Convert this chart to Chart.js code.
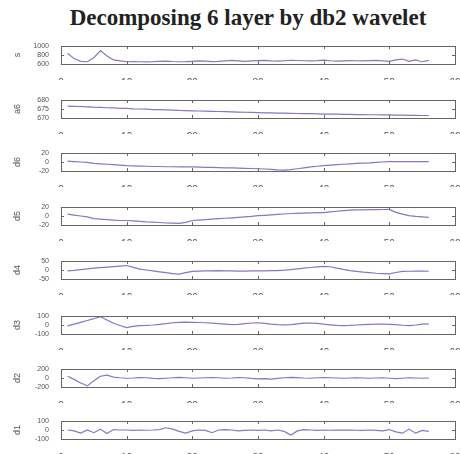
<!DOCTYPE html>
<html>
<head>
<meta charset="utf-8">
<script src="https://cdn.jsdelivr.net/npm/chart.js@4/dist/chart.umd.min.js"></script>
<style>
  body { margin: 0; background: #fff; width: 460px; height: 454px; overflow: hidden; position: relative; }
  #title { position: absolute; top: 5px; left: 0; width: 496px; text-align: center;
           font: bold 23px "Liberation Serif", serif; color: #222; }
  .plot { position: absolute; left: 0; width: 460px; height: 40px; }
</style>
</head>
<body>
<div id="title">Decomposing 6 layer by db2 wavelet</div>

<script>
// sample index (x axis)
const samples = [1,2,3,4,5,6,7,8,9,10,11,12,13,14,15,16,17,18,19,20,21,22,23,24,25,26,27,28,
  29,30,31,32,33,34,35,36,37,38,39,40,41,42,43,44,45,46,47,48,49,50,51,52,53,54,55,56];

const xTicks = [0, 10, 20, 30, 40, 50, 60];

// signal and decomposition levels
const sVals = [840,720,660,650,740,900,780,690,670,650,655,650,648,652,660,665,655,650,652,660,
  670,665,655,660,670,680,670,660,668,675,680,670,665,672,680,678,672,670,675,685,
  672,665,670,676,672,670,675,680,668,660,690,710,660,690,650,680];
const a6Vals = [676.6,676.5,676.4,676.2,676.0,675.9,675.7,675.6,675.4,675.3,675.1,675.0,674.9,674.7,
  674.6,674.5,674.4,674.2,674.1,674.0,673.9,673.8,673.7,673.6,673.5,673.4,673.3,673.2,
  673.1,673.0,672.9,672.8,672.7,672.7,672.6,672.5,672.4,672.4,672.3,672.2,672.2,672.1,
  672.0,672.0,671.9,671.9,671.8,671.8,671.7,671.7,671.6,671.6,671.5,671.5,671.4,671.4];
const d6Vals = [2,1,0,-1,-3,-4,-5,-6,-7,-8,-8.5,-9,-9.5,-10,-10,-10.5,-10.5,-11,-11,-11,
  -11.5,-12,-12,-12.5,-13,-13,-13.5,-14,-14.5,-15,-15.5,-16.5,-17.5,-18,-17,-15,-13,-11,-9.5,-8,
  -7,-6,-5,-4,-3,-2.5,-2,-1,0,1,1,1,1,1,1,1];
const d5Vals = [4,2,0,-2,-6,-7,-8,-9,-10,-10,-11,-12,-13,-13.5,-14.5,-15.5,-16,-16.5,-14,-10,
  -9,-8,-7,-6,-5,-4,-3,-2,-1,0.7,1.5,2.5,3.5,4.5,5.5,6,6.5,7,7.5,7.6,
  9,10.5,12,13,13.5,13.8,14,14.2,14.4,14.5,8,4,1,-1,-2,-3];
const d4Vals = [-5,-2,2,6,10,13,16,19,22,25,15,5,0,-5,-10,-15,-20,-23,-15,-8,
  -6,-5,-5,-4,-5,-5,-6,-6,-5,-5,-5,-4,-3,-1,2,6,10,14,17,20,
  18,10,3,-3,-8,-12,-15,-18,-20,-22,-14,-8,-7,-6,-6,-7];
const d3Vals = [-10,10,30,50,70,92,55,20,-5,-28,-15,-8,-5,0,8,15,25,30,32,30,
  28,25,20,15,10,5,8,15,22,25,18,10,5,2,5,12,20,22,18,10,
  2,-5,-8,-5,0,5,8,10,10,8,5,-3,-8,0,10,12];
const d2Vals = [40,-30,-110,-176,-60,40,64,20,5,-5,0,10,5,-10,-15,-5,5,15,5,-5,
  0,5,10,5,-5,0,10,5,-10,-20,-15,-25,-10,5,15,10,0,-5,5,10,
  5,0,-5,0,5,0,-5,0,5,-5,-15,-5,5,0,-5,0];
const d1Vals = [0,-10,-35,0,-30,10,-40,5,0,0,-5,0,-3,0,5,25,10,-15,-35,-10,
  0,-5,-30,0,5,0,-10,-5,0,-5,0,-10,0,-15,-55,-10,5,0,-5,0,
  -3,0,-2,0,-3,-5,0,-5,-10,5,-20,-35,10,-35,-5,-15];

const names = ["s", "a6", "d6", "d5", "d4", "d3", "d2", "d1"];
const series = [sVals, a6Vals, d6Vals, d5Vals, d4Vals, d3Vals, d2Vals, d1Vals];
const yMins = [600, 670, -20, -20, -50, -100, -200, -100];
const yMaxs = [1000, 680, 20, 20, 50, 100, 200, 100];
const boxTops = [46, 100, 153, 207, 261, 316, 369, 421];

// box round the plot area plus short inward ticks, matlab style
const boxPlugin = {
  id: "boxed",
  afterDraw(c) {
    const a = c.chartArea;
    const ctx = c.ctx;
    ctx.save();
    ctx.strokeStyle = "#666";
    ctx.lineWidth = 1;
    ctx.strokeRect(a.left + 0.5, a.top + 0.5, a.right - a.left, a.bottom - a.top);
    const sx = c.scales.x, sy = c.scales.y;
    ctx.beginPath();
    xTicks.forEach(v => {
      const px = Math.round(sx.getPixelForValue(v)) + 0.5;
      ctx.moveTo(px, a.top); ctx.lineTo(px, a.top + 3);
      ctx.moveTo(px, a.bottom); ctx.lineTo(px, a.bottom - 3);
    });
    const mid = Math.round(sy.getPixelForValue((sy.min + sy.max) / 2)) + 0.5;
    ctx.moveTo(a.left, mid); ctx.lineTo(a.left + 3, mid);
    ctx.moveTo(a.right, mid); ctx.lineTo(a.right - 3, mid);
    ctx.stroke();
    ctx.restore();
  }
};

names.forEach((name, i) => {
  const wrap = document.createElement("div");
  wrap.className = "plot";
  wrap.style.top = (boxTops[i] - 6) + "px";
  const cv = document.createElement("canvas");
  wrap.appendChild(cv);
  document.body.appendChild(wrap);

  new Chart(cv, {
    type: "line",
    data: {
      labels: samples,
      datasets: [{
        data: series[i],
        borderColor: "#7b7bc6",
        borderWidth: 1.2,
        pointRadius: 0
      }]
    },
    options: {
      animation: false,
      maintainAspectRatio: false,
      layout: { padding: { top: 6, right: 5, bottom: 0, left: 10 } },
      plugins: { legend: { display: false } },
      scales: {
        x: {
          type: "linear",
          min: 0,
          max: 60,
          afterFit: s => { s.height = 16; s.paddingLeft = 0; s.paddingRight = 0; },
          grid: { display: false },
          border: { display: false },
          ticks: {
            stepSize: 10, color: "#555", font: { family: "Liberation Sans", size: 10 },
            padding: 5, maxRotation: 0, autoSkip: false
          }
        },
        y: {
          min: yMins[i],
          max: yMaxs[i],
          afterFit: s => { s.width = 51; s.paddingTop = 0; s.paddingBottom = 0; },
          grid: { display: false },
          border: { display: false },
          ticks: {
            stepSize: (yMaxs[i] - yMins[i]) / 2,
            color: "#555", font: { family: "Liberation Sans", size: 7 }, padding: 4,
            autoSkip: false, callback: v => String(v)
          },
          title: {
            display: true,
            text: name,
            color: "#555",
            font: { family: "Liberation Sans", size: 9 },
            padding: { top: 2, bottom: 0 }
          }
        }
      }
    },
    plugins: [boxPlugin]
  });
});
</script>
</body>
</html>
